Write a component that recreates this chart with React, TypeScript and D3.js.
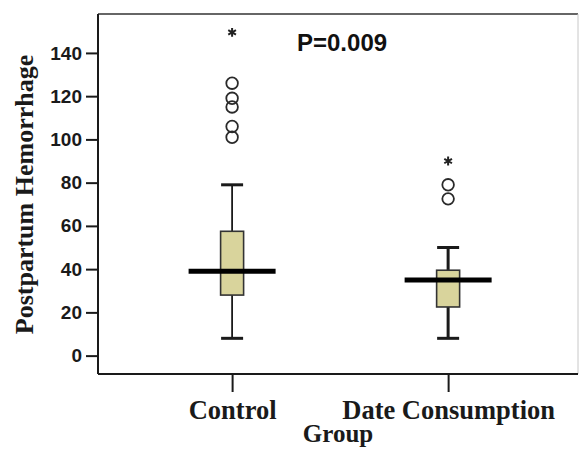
import { useEffect, useRef } from "react";
import * as d3 from "d3";

// boxplot summary (SPSS style)
const groups = ["Control", "Date Consumption"];
const whiskerLow = [8, 8];
const q1 = [28, 22.5];
const median = [39, 35];
const q3 = [57.5, 39.5];
const whiskerHigh = [79, 50];
const outliers = [
  [101, 106, 115, 119, 126],
  [72.5, 79],
];
const extremes = [[149.5], [90]];
const yTicks = [0, 20, 40, 60, 80, 100, 120, 140];
const pLabel = "P=0.009";

const W = 579;
const H = 455;
const INK = "#1a1a1a";
const BOX_FILL = "#d9d49c";
const SANS = "'Liberation Sans', Arial, sans-serif";
const SERIF = "'Liberation Serif', 'Times New Roman', serif";

export default function App() {
  const ref = useRef<SVGSVGElement | null>(null);

  useEffect(() => {
    const el = ref.current;
    if (!el) return;
    const svg = d3.select(el);
    svg.selectAll("*").remove();

    const left = 98;
    const right = 578;
    const top = 14;
    const bottom = 374;

    const x = d3
      .scalePoint<string>()
      .domain(groups)
      .range([left, right])
      .padding(0.611)
      .align(0.508);
    const y = d3.scaleLinear().domain([-8.5, 158]).range([bottom, top]);

    svg.append("rect").attr("width", W).attr("height", H).attr("fill", "#fff");

    // frame: dark left/bottom, grey top, faint right
    svg.append("line")
      .attr("x1", left).attr("x2", right).attr("y1", top).attr("y2", top)
      .attr("stroke", "#666").attr("stroke-width", 2);
    svg.append("line")
      .attr("x1", right).attr("x2", right).attr("y1", top).attr("y2", bottom)
      .attr("stroke", "#c8c8c8").attr("stroke-width", 1);

    const yAxis = d3.axisLeft(y).tickValues(yTicks).tickSize(12).tickPadding(4).tickSizeOuter(0);
    svg.append("g")
      .attr("transform", `translate(${left},0)`)
      .call(yAxis)
      .call((g) => g.select(".domain").attr("d", `M0,${top}V${bottom}`).attr("stroke", INK).attr("stroke-width", 2))
      .call((g) => g.selectAll(".tick line").attr("stroke", INK).attr("stroke-width", 2))
      .call((g) =>
        g.selectAll(".tick text")
          .attr("fill", INK)
          .attr("font-family", SANS)
          .attr("font-weight", 700)
          .attr("font-size", 19)
      );

    const xAxis = d3.axisBottom(x).tickSize(18).tickPadding(8).tickSizeOuter(0);
    svg.append("g")
      .attr("transform", `translate(0,${bottom})`)
      .call(xAxis)
      .call((g) => g.select(".domain").attr("d", `M${left},0H${right}`).attr("stroke", INK).attr("stroke-width", 2))
      .call((g) => g.selectAll(".tick line").attr("stroke", INK).attr("stroke-width", 2))
      .call((g) =>
        g.selectAll(".tick text")
          .attr("fill", INK)
          .attr("font-family", SERIF)
          .attr("font-weight", 700)
          .attr("font-size", 26.5)
          .attr("dy", "0.72em")
      );

    const boxW = 23;
    const capW = 22;
    const medW = 87;

    groups.forEach((name, i) => {
      const cx = x(name) ?? 0;
      const g = svg.append("g");

      // whisker stems + caps
      g.append("line")
        .attr("x1", cx).attr("x2", cx)
        .attr("y1", y(whiskerHigh[i])).attr("y2", y(q3[i]))
        .attr("stroke", INK).attr("stroke-width", i === 0 ? 1.8 : 3);
      g.append("line")
        .attr("x1", cx).attr("x2", cx)
        .attr("y1", y(q1[i])).attr("y2", y(whiskerLow[i]))
        .attr("stroke", INK).attr("stroke-width", i === 0 ? 1.8 : 3);
      [whiskerHigh[i], whiskerLow[i]].forEach((v) => {
        g.append("line")
          .attr("x1", cx - capW / 2).attr("x2", cx + capW / 2)
          .attr("y1", y(v)).attr("y2", y(v))
          .attr("stroke", INK).attr("stroke-width", 3);
      });

      g.append("rect")
        .attr("x", cx - boxW / 2)
        .attr("y", y(q3[i]))
        .attr("width", boxW)
        .attr("height", y(q1[i]) - y(q3[i]))
        .attr("fill", BOX_FILL)
        .attr("stroke", "#333")
        .attr("stroke-width", 1.6);

      g.append("line")
        .attr("x1", cx - medW / 2).attr("x2", cx + medW / 2)
        .attr("y1", y(median[i])).attr("y2", y(median[i]))
        .attr("stroke", "#000").attr("stroke-width", 5);

      g.selectAll("circle.out")
        .data(outliers[i])
        .join("circle")
        .attr("class", "out")
        .attr("cx", cx)
        .attr("cy", (d) => y(d))
        .attr("r", 5.8)
        .attr("fill", "none")
        .attr("stroke", "#2a2a2a")
        .attr("stroke-width", 1.8);

      g.selectAll("path.ext")
        .data(extremes[i])
        .join("path")
        .attr("class", "ext")
        .attr("transform", (d) => `translate(${cx},${y(d)})`)
        .attr("d", d3.symbol(d3.symbolAsterisk, 55)())
        .attr("fill", "none")
        .attr("stroke", "#222")
        .attr("stroke-width", 2);
    });

    svg.append("text")
      .attr("x", 297)
      .attr("y", 51)
      .attr("fill", "#111")
      .attr("font-family", SANS)
      .attr("font-weight", 700)
      .attr("font-size", 24)
      .text(pLabel);

    svg.append("text")
      .attr("transform", `translate(33,${(52 + 337) / 2}) rotate(-90)`)
      .attr("text-anchor", "middle")
      .attr("fill", INK)
      .attr("font-family", SERIF)
      .attr("font-weight", 700)
      .attr("font-size", 26)
      .text("Postpartum Hemorrhage");

    svg.append("text")
      .attr("x", (left + right) / 2)
      .attr("y", 442)
      .attr("text-anchor", "middle")
      .attr("fill", INK)
      .attr("font-family", SERIF)
      .attr("font-weight", 700)
      .attr("font-size", 25)
      .text("Group");
  }, []);

  return (
    <svg
      ref={ref}
      width={W}
      height={H}
      style={{ position: "absolute", left: 0, top: 0, display: "block" }}
    />
  );
}
